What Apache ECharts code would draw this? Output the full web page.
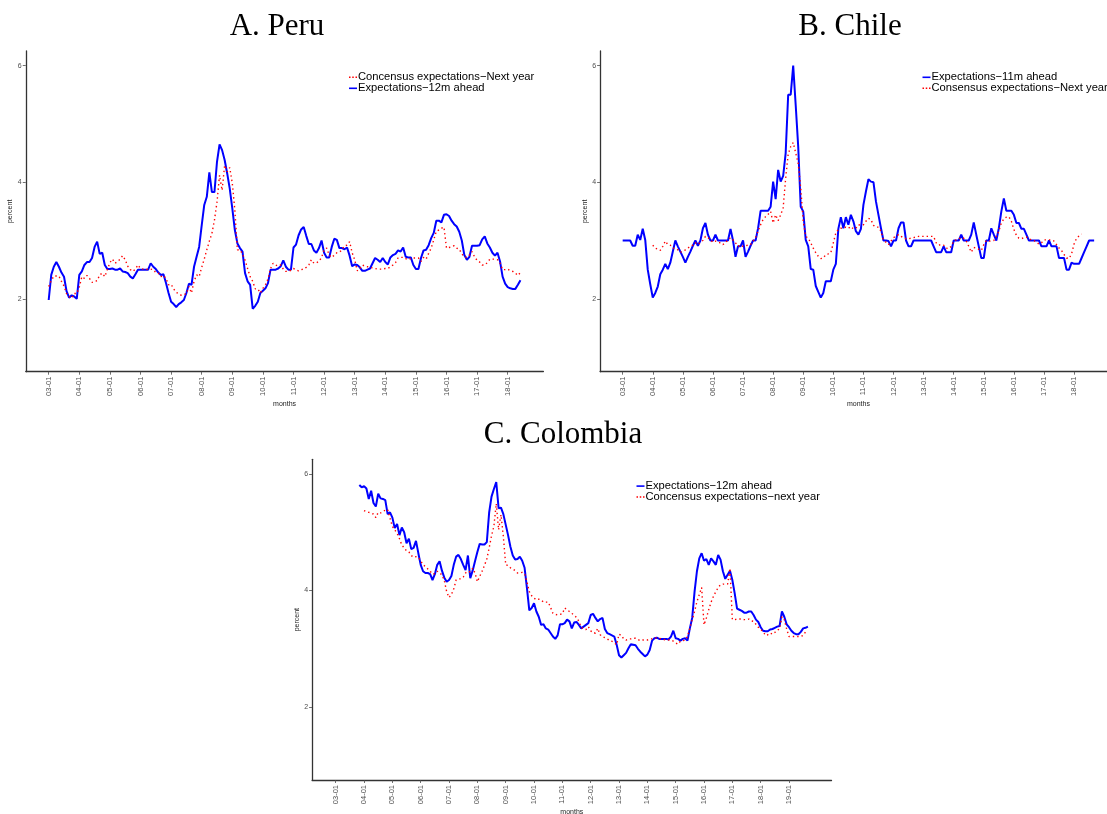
<!DOCTYPE html>
<html><head><meta charset="utf-8">
<script src="https://cdn.jsdelivr.net/npm/echarts@6/dist/echarts.min.js"></script>
<style>html,body{margin:0;padding:0;background:#fff}#c{width:1107px;height:814px}</style>
</head><body><div id="c"></div>
<script>
// ---------- data (monthly, percent) ----------
const peruStart = '2003-01';
const peruExp12m = [
1.98,2.41,2.55,2.63,2.55,2.45,2.38,2.13,2.02,2.06,2.04,2.00,
2.41,2.47,2.58,2.63,2.63,2.70,2.89,2.98,2.77,2.79,2.58,2.51,
2.51,2.52,2.50,2.50,2.52,2.47,2.46,2.44,2.38,2.35,2.42,2.50,
2.50,2.50,2.50,2.50,2.61,2.55,2.51,2.45,2.41,2.42,2.27,2.10,
1.95,1.91,1.86,1.91,1.94,1.98,2.10,2.26,2.24,2.55,2.72,2.89,
3.26,3.61,3.75,4.17,3.83,3.83,4.35,4.65,4.55,4.38,4.15,3.89,
3.55,3.18,2.95,2.87,2.81,2.44,2.30,2.24,1.83,1.88,1.95,2.10,
2.14,2.18,2.27,2.50,2.50,2.50,2.52,2.56,2.66,2.55,2.50,2.50,
2.88,2.93,3.09,3.19,3.23,3.08,2.94,2.94,2.83,2.79,2.87,3.00,
2.79,2.71,2.71,2.89,3.03,3.01,2.87,2.87,2.85,2.88,2.74,2.56,
2.59,2.58,2.54,2.48,2.48,2.50,2.52,2.61,2.70,2.67,2.63,2.70,
2.63,2.59,2.71,2.75,2.77,2.83,2.81,2.88,2.72,2.71,2.71,2.58,
2.51,2.51,2.70,2.83,2.84,2.92,3.04,3.13,3.34,3.34,3.31,3.44,
3.45,3.42,3.34,3.28,3.24,3.15,3.00,2.75,2.67,2.72,2.91,2.91,
2.91,2.92,3.02,3.07,2.95,2.88,2.79,2.74,2.79,2.64,2.38,2.26,
2.20,2.18,2.17,2.17,2.24,2.32];
const peruConsensus = [
2.21,2.31,2.39,2.39,2.39,2.30,2.22,2.09,2.04,2.01,2.09,2.09,
2.20,2.38,2.35,2.40,2.35,2.28,2.30,2.31,2.41,2.44,2.38,2.50,
2.62,2.68,2.61,2.64,2.68,2.74,2.67,2.56,2.50,2.47,2.51,2.58,
2.52,2.51,2.50,2.51,2.51,2.50,2.45,2.44,2.38,2.40,2.35,2.24,
2.25,2.17,2.11,2.09,2.06,2.07,2.09,2.21,2.10,2.30,2.41,2.38,
2.54,2.68,2.84,2.99,3.12,3.35,3.66,4.12,3.86,4.29,4.18,4.25,
3.98,3.52,2.84,2.84,2.77,2.66,2.52,2.38,2.30,2.17,2.17,2.10,
2.18,2.24,2.34,2.52,2.61,2.58,2.56,2.58,2.51,2.47,2.47,2.49,
2.52,2.50,2.48,2.50,2.51,2.54,2.58,2.67,2.61,2.62,2.64,2.71,
2.84,2.87,2.75,2.71,2.75,2.79,2.80,2.84,2.91,2.92,2.98,2.79,
2.67,2.48,2.52,2.58,2.56,2.55,2.54,2.53,2.52,2.51,2.51,2.51,
2.52,2.52,2.55,2.58,2.62,2.70,2.71,2.71,2.69,2.67,2.69,2.70,
2.70,2.70,2.64,2.71,2.68,2.78,2.87,3.01,3.16,3.18,3.21,3.23,
2.87,2.88,2.89,2.91,2.87,2.85,2.77,2.72,2.71,2.75,2.81,2.72,
2.66,2.63,2.58,2.58,2.62,2.68,2.68,2.68,2.67,2.61,2.50,2.50,
2.51,2.48,2.47,2.44,2.40,2.45];

const chileExpStart = '2003-01';
const chileExp11m = [
3.00,3.00,3.00,3.00,2.91,2.91,3.10,3.01,3.20,3.01,2.50,2.25,
2.02,2.10,2.21,2.42,2.50,2.60,2.51,2.62,2.81,3.00,2.90,2.81,
2.72,2.62,2.72,2.81,2.91,3.00,2.91,3.00,3.21,3.30,3.10,3.00,
3.00,3.10,3.00,3.00,3.00,3.00,3.00,3.20,3.00,2.72,2.90,2.90,
3.00,2.72,2.81,2.91,3.00,3.00,3.21,3.51,3.51,3.51,3.51,3.58,
4.01,3.71,4.21,4.01,4.11,4.50,5.50,5.50,6.00,5.32,4.61,3.58,
3.50,3.01,2.90,2.51,2.50,2.22,2.12,2.02,2.10,2.30,2.30,2.30,
2.50,2.60,3.20,3.40,3.21,3.40,3.27,3.44,3.33,3.16,3.10,3.20,
3.61,3.84,4.05,4.01,4.00,3.67,3.44,3.21,3.00,3.00,2.99,2.90,
3.00,3.00,3.21,3.31,3.31,3.00,2.90,2.90,3.00,3.00,3.00,3.00,
3.00,3.00,3.00,3.00,2.90,2.80,2.80,2.80,2.90,2.80,2.80,2.80,
3.00,3.00,3.00,3.10,3.00,3.00,3.00,3.10,3.31,3.10,2.90,2.70,
2.70,3.00,3.00,3.21,3.10,3.00,3.21,3.50,3.72,3.51,3.51,3.51,
3.44,3.30,3.30,3.20,3.20,3.10,3.00,3.00,3.00,3.00,3.00,2.90,
2.90,2.90,3.00,2.90,2.90,2.90,2.70,2.70,2.70,2.50,2.50,2.62,
2.60,2.60,2.60,2.70,2.80,2.90,3.00,3.00,3.00];
const chileConsStart = '2004-01';
const chileConsensus = [
2.92,2.87,2.85,2.83,2.90,2.99,2.93,2.92,2.87,2.86,2.84,2.80,
2.81,2.84,2.87,2.90,2.92,2.96,2.93,2.97,3.00,3.07,3.05,3.01,
2.97,2.99,2.97,2.96,2.93,2.97,3.01,3.05,3.01,2.96,2.90,2.92,
2.90,2.91,2.92,2.93,2.99,3.05,3.16,3.27,3.36,3.41,3.45,3.50,
3.30,3.44,3.34,3.44,3.56,4.07,4.48,4.61,4.68,4.50,4.32,3.90,
3.33,3.07,3.04,2.96,2.87,2.79,2.73,2.69,2.70,2.76,2.77,2.79,
2.96,3.13,3.19,3.21,3.21,3.23,3.21,3.24,3.20,3.21,3.27,3.26,
3.27,3.33,3.38,3.36,3.26,3.23,3.23,3.16,3.01,2.97,2.93,2.99,
3.05,3.07,3.10,3.07,3.05,3.03,3.03,3.04,3.05,3.06,3.07,3.07,
3.07,3.07,3.07,3.07,3.07,2.96,2.92,2.93,2.92,2.87,2.86,2.90,
2.99,3.01,3.03,3.05,3.04,2.99,2.90,2.80,2.88,2.87,2.85,2.83,
2.93,3.00,2.99,2.99,3.00,3.07,3.16,3.30,3.37,3.40,3.41,3.33,
3.19,3.09,3.04,3.03,3.05,3.06,3.03,3.01,3.00,2.97,2.94,2.96,
3.01,3.01,3.01,3.01,2.99,2.93,2.87,2.83,2.76,2.70,2.69,2.77,
2.94,3.04,3.08,3.11];

const colExpStart = '2003-11';
const colExp12m = [
5.81,5.77,
5.79,5.75,5.57,5.71,5.50,5.44,5.66,5.58,5.57,5.55,5.31,5.34,
5.25,5.07,5.14,4.95,5.08,5.00,4.81,4.89,4.71,4.73,4.85,4.64,
4.44,4.33,4.30,4.30,4.28,4.18,4.28,4.44,4.50,4.34,4.22,4.15,
4.18,4.25,4.44,4.58,4.61,4.54,4.44,4.35,4.60,4.21,4.34,4.50,
4.66,4.80,4.79,4.79,4.83,5.34,5.61,5.74,5.86,5.41,5.42,5.31,
5.13,4.95,4.75,4.60,4.53,4.54,4.58,4.51,4.39,4.04,3.66,3.70,
3.78,3.64,3.55,3.41,3.42,3.35,3.33,3.27,3.21,3.17,3.23,3.42,
3.42,3.44,3.50,3.47,3.35,3.45,3.46,3.41,3.35,3.38,3.41,3.44,
3.58,3.60,3.53,3.47,3.51,3.53,3.34,3.27,3.25,3.23,3.21,3.07,
2.89,2.85,2.89,2.93,3.01,3.08,3.07,3.06,3.00,2.95,2.91,2.87,
2.90,2.98,3.14,3.18,3.19,3.17,3.17,3.17,3.17,3.16,3.21,3.31,
3.18,3.17,3.14,3.17,3.18,3.14,3.35,3.53,3.98,4.33,4.55,4.64,
4.51,4.54,4.44,4.55,4.50,4.44,4.61,4.53,4.33,4.20,4.27,4.34,
4.18,3.95,3.69,3.67,3.65,3.62,3.62,3.64,3.64,3.58,3.50,3.46,
3.37,3.31,3.30,3.30,3.33,3.34,3.36,3.38,3.39,3.64,3.55,3.42,
3.37,3.31,3.27,3.25,3.25,3.29,3.35,3.36,3.38];
const colConsStart = '2004-01';
const colConsensus = [
5.37,5.35,5.34,5.33,5.31,5.25,5.34,5.33,5.35,5.38,5.39,5.24,
5.10,5.04,4.98,4.89,4.78,4.73,4.68,4.66,4.60,4.57,4.58,4.57,
4.51,4.44,4.41,4.37,4.33,4.28,4.29,4.33,4.30,4.27,4.17,3.98,
3.88,3.93,4.03,4.18,4.20,4.20,4.23,4.30,4.33,4.32,4.38,4.30,
4.15,4.24,4.33,4.43,4.54,4.73,4.94,5.10,5.49,5.04,5.30,4.93,
4.44,4.43,4.39,4.37,4.34,4.30,4.30,4.31,4.29,4.15,3.98,3.91,
3.87,3.84,3.85,3.84,3.80,3.80,3.80,3.71,3.61,3.59,3.58,3.59,
3.60,3.70,3.67,3.64,3.61,3.57,3.54,3.47,3.37,3.34,3.33,3.38,
3.31,3.27,3.27,3.35,3.24,3.21,3.19,3.17,3.14,3.13,3.10,3.07,
3.25,3.23,3.17,3.15,3.17,3.17,3.18,3.18,3.16,3.14,3.15,3.15,
3.15,3.17,3.17,3.18,3.19,3.18,3.17,3.16,3.15,3.15,3.15,3.13,
3.10,3.08,3.13,3.14,3.15,3.21,3.35,3.50,3.64,3.81,3.93,4.05,
3.41,3.53,3.67,3.80,3.90,3.98,4.05,4.10,4.11,4.11,4.11,4.38,
3.50,3.50,3.51,3.51,3.51,3.50,3.50,3.51,3.48,3.47,3.42,3.37,
3.33,3.30,3.23,3.24,3.27,3.25,3.28,3.32,3.34,3.55,3.50,3.34,
3.21,3.21,3.21,3.21,3.21,3.21,3.23,3.29];

// x-axis month spans and tick labels
const peruAxisSpan = ['2002-04', '2019-03'];
const chileAxisSpan = ['2002-04', '2019-06'];
const colAxisSpan = ['2002-03', '2020-07'];
const peruTicks = ['03-01','04-01','05-01','06-01','07-01','08-01','09-01','10-01','11-01','12-01','13-01','14-01','15-01','16-01','17-01','18-01'];
const chileTicks = peruTicks.slice();
const colTicks = peruTicks.concat(['19-01']);
const yTicks = [2, 4, 6];

// ---------- helpers ----------
function mIdx(s){ const p = s.split('-').map(Number); return p[0]*12 + p[1] - 1; }
function lab(i){ const y = Math.floor(i/12), m = i%12 + 1; return String(y%100).padStart(2,'0') + '-' + String(m).padStart(2,'0'); }
function cats(span){ const o=[]; for(let i=mIdx(span[0]); i<=mIdx(span[1]); i++) o.push(lab(i)); return o; }
function align(span, start, vals){
  const n = mIdx(span[1]) - mIdx(span[0]) + 1;
  const a = new Array(n).fill(null);
  const off = mIdx(start) - mIdx(span[0]);
  vals.forEach((v,k)=>{ a[off+k] = v; });
  return a;
}

const AX = '#4d4d4d';
const BLUE = '#0000FF', RED = '#FF0000';
const DOT = [1.4, 3];
const ICON_LINE = 'path://M0,0L8,0L8,1.6L0,1.6Z';
const ICON_DOTS = 'path://M0,0h1.5v1.5h-1.5z M3.25,0h1.5v1.5h-1.5z M6.5,0h1.5v1.5h-1.5z';

function xAxis(idx, span, ticks){
  return {
    type:'category', gridIndex: idx, data: cats(span), boundaryGap:false,
    name:'months', nameLocation:'middle', nameGap:29,
    nameTextStyle:{fontSize:7, color:'#222', fontFamily:'Liberation Sans'},
    axisLine:{show:true, lineStyle:{color:'#333', width:1.3}},
    axisTick:{show:true, length:3, interval:(i,v)=>ticks.includes(v), lineStyle:{color:AX, width:0.8}},
    axisLabel:{show:true, rotate:90, margin:5, fontSize:7.5, color:AX, fontFamily:'Liberation Sans',
      interval:(i,v)=>ticks.includes(v)},
    splitLine:{show:false}
  };
}
function yAxis(idx){
  return {
    type:'value', gridIndex: idx, min:0.75, max:6.25,
    name:'percent', nameLocation:'middle', nameGap:11, nameRotate:90,
    nameTextStyle:{fontSize:7, color:'#222', fontFamily:'Liberation Sans'},
    axisLine:{show:true, lineStyle:{color:'#333', width:1.3}},
    axisTick:{show:true, length:3, customValues:yTicks, lineStyle:{color:AX, width:0.8}},
    axisLabel:{show:true, customValues:yTicks, margin:4, fontSize:7, color:AX, fontFamily:'Liberation Sans'},
    splitLine:{show:false}
  };
}
function blue(name, idx, span, start, vals){
  return {type:'line', name, xAxisIndex:idx, yAxisIndex:idx, data:align(span,start,vals),
    symbol:'none', connectNulls:false, lineStyle:{color:BLUE, width:2}, itemStyle:{color:BLUE}, z:2};
}
function red(name, idx, span, start, vals){
  return {type:'line', name, xAxisIndex:idx, yAxisIndex:idx, data:align(span,start,vals),
    symbol:'none', connectNulls:false, lineStyle:{color:RED, width:1.4, type:DOT}, itemStyle:{color:RED}, z:3};
}
function legend(items, left, top, lh){
  return {data:items, orient:'vertical', left, top, padding:0, itemGap:0, itemWidth:8, itemHeight:lh,
    selectedMode:false,
    textStyle:{fontSize:11.2, color:'#000', fontFamily:'Liberation Sans', lineHeight:lh, padding:[0,0,0,-4]}};
}
function lineItem(name){ return {name, icon:ICON_LINE, itemStyle:{color:BLUE}}; }
function dotItem(name){ return {name, icon:ICON_DOTS, itemStyle:{color:RED}}; }

const N_PE_C = 'Concensus expectations\u2212Next year';
const N_PE_E = 'Expectations\u221212m ahead';
const N_CL_E = 'Expectations\u221211m ahead';
const N_CL_C = 'Consensus expectations\u2212Next year';
const N_CO_E = 'Expectations\u221212m ahead';
const N_CO_C = 'Concensus expectations\u2212next year';

const titleFont = '31px "Liberation Serif"';
const option = {
  animation:false,
  backgroundColor:'#fff',
  grid:[
    {left:25.75, right:563.6, top:51, bottom:442.3, containLabel:false, outerBoundsMode:'none'},
    {left:600.1, right:-9.7, top:51, bottom:442.3, containLabel:false, outerBoundsMode:'none'},
    {left:312.1, right:275.5, top:459.3, bottom:34, containLabel:false, outerBoundsMode:'none'}
  ],
  xAxis:[xAxis(0, peruAxisSpan, peruTicks), xAxis(1, chileAxisSpan, chileTicks), xAxis(2, colAxisSpan, colTicks)],
  yAxis:[yAxis(0), yAxis(1), yAxis(2)],
  legend:[
    legend([dotItem(N_PE_C), lineItem(N_PE_E)], 349, 71.8, 11),
    legend([lineItem(N_CL_E), dotItem(N_CL_C)], 922.5, 71.8, 11),
    legend([lineItem(N_CO_E), dotItem(N_CO_C)], 636.5, 480.6, 10.7)
  ],
  graphic:[
    {type:'text', x:277, y:27, style:{text:'A. Peru', font:titleFont, fill:'#000', textAlign:'center', textVerticalAlign:'middle'}},
    {type:'text', x:850, y:27, style:{text:'B. Chile', font:titleFont, fill:'#000', textAlign:'center', textVerticalAlign:'middle'}},
    {type:'text', x:563, y:435, style:{text:'C. Colombia', font:titleFont, fill:'#000', textAlign:'center', textVerticalAlign:'middle'}}
  ],
  series:[
    blue(N_PE_E, 0, peruAxisSpan, peruStart, peruExp12m),
    red(N_PE_C, 0, peruAxisSpan, peruStart, peruConsensus),
    blue(N_CL_E, 1, chileAxisSpan, chileExpStart, chileExp11m),
    red(N_CL_C, 1, chileAxisSpan, chileConsStart, chileConsensus),
    blue(N_CO_E, 2, colAxisSpan, colExpStart, colExp12m),
    red(N_CO_C, 2, colAxisSpan, colConsStart, colConsensus)
  ]
};
const chart = echarts.init(document.getElementById('c'), null, {renderer:'canvas'});
chart.setOption(option);
</script></body></html>
